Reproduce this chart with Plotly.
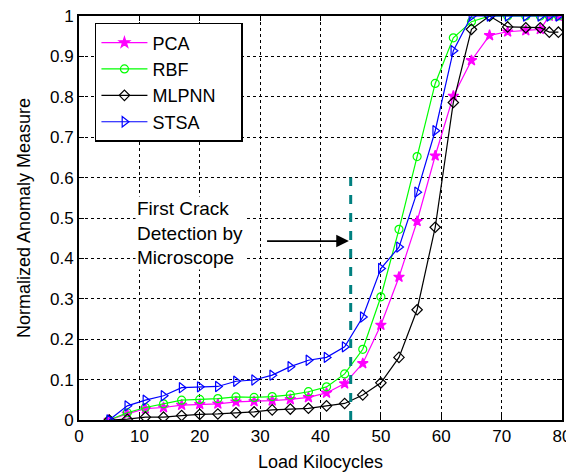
import plotly.graph_objects as go

# load kilocycles at which each method was evaluated
cycles = [5, 8, 11, 14, 17, 20, 23, 26, 29, 32, 35, 38, 41, 44, 47, 50, 53, 56,
          59, 62, 65, 68, 71, 74, 76.4, 77.9, 79.4]

pca = [0, 0.015, 0.028, 0.031, 0.037, 0.039, 0.040, 0.045, 0.046, 0.048, 0.051,
       0.056, 0.067, 0.090, 0.140, 0.235, 0.354, 0.492, 0.654, 0.802, 0.890,
       0.952, 0.961, 0.964, 0.967, 1.0, 1.0]
rbf = [0, 0.018, 0.031, 0.040, 0.049, 0.051, 0.053, 0.057, 0.056, 0.058, 0.062,
       0.070, 0.082, 0.114, 0.175, 0.305, 0.472, 0.652, 0.833, 0.946, 0.986,
       1.0, 1.0, 1.0, 1.0, 1.0, 1.0]
mlpnn = [0, 0.002, 0.007, 0.007, 0.011, 0.014, 0.015, 0.018, 0.020, 0.025, 0.027,
         0.029, 0.035, 0.041, 0.062, 0.092, 0.155, 0.273, 0.477, 0.786, 0.967,
         1.0, 0.973, 0.971, 0.971, 0.960, 0.960]
stsa = [0, 0.035, 0.049, 0.060, 0.080, 0.082, 0.083, 0.096, 0.099, 0.111, 0.132,
        0.148, 0.155, 0.181, 0.255, 0.375, 0.428, 0.564, 0.716, 0.914, 1.0,
        1.0, 1.0, 1.0, 1.0, 1.0, 1.0]

crack_x = 45
crack_top = 0.6

FONT = "Liberation Sans, Arial, sans-serif"
FS = 18
TICK_FS = 17
PAD = "\u00a0" * 4  # widen the legend box like the original

fig = go.Figure()

series = [
    ("PCA", pca, "#ff00ff", "star", 8),
    ("RBF", rbf, "#00ff00", "circle-open", 8),
    ("MLPNN" + PAD, mlpnn, "#000000", "diamond-open", 8),
    ("STSA", stsa, "#0000ff", "triangle-right-open", 9),
]
for name, vals, col, sym, sz in series:
    fig.add_trace(go.Scatter(
        x=cycles, y=vals, name=name, mode="lines+markers",
        line=dict(color=col, width=1.2),
        marker=dict(symbol=sym, size=sz, color=col, line=dict(color=col, width=1.2)),
    ))

# microscope crack detection line
fig.add_trace(go.Scatter(
    x=[crack_x, crack_x], y=[0, crack_top], mode="lines", showlegend=False,
    line=dict(color="#008080", width=3, dash="dash"), hoverinfo="skip",
))

fig.add_annotation(
    x=44.7, y=0.443, ax=30.9, ay=0.443, xref="x", yref="y", axref="x", ayref="y",
    text="", showarrow=True, arrowhead=2, arrowsize=1.4, arrowwidth=1.8,
    arrowcolor="black",
)
fig.add_annotation(
    x=9.3, y=0.462, xref="x", yref="y", xanchor="left", yanchor="middle",
    text="First Crack<br>Detection by<br>Microscope", showarrow=False, align="left",
    font=dict(family=FONT, size=19, color="black"), bgcolor="white",
)

axis_common = dict(
    showline=True, linecolor="black", linewidth=2, mirror="ticks",
    ticks="inside", ticklen=5, tickcolor="black", automargin=False,
    ticklabeloverflow="allow",
    showgrid=True, gridcolor="black", gridwidth=1, griddash="dot",
    zeroline=False, tickfont=dict(family=FONT, size=TICK_FS, color="black"),
)

fig.update_xaxes(range=[0, 80], dtick=10, title=dict(text="Load Kilocycles",
                 font=dict(family=FONT, size=FS, color="black"), standoff=10),
                 **axis_common)
fig.update_yaxes(range=[0, 1], dtick=0.1, tickformat="~g",
                 title=dict(text="Normalized Anomaly Measure",
                            font=dict(family=FONT, size=FS, color="black"), standoff=15),
                 **axis_common)

# page body adds an 8px offset, so the figure is 8px smaller than the window
fig.update_layout(
    width=566, height=466,
    margin=dict(l=71, r=12, t=8, b=54),
    plot_bgcolor="white", paper_bgcolor="white",
    legend=dict(x=0.033, y=0.983, xanchor="left", yanchor="top",
                bordercolor="black", borderwidth=1.5, bgcolor="white",
                font=dict(family=FONT, size=FS, color="black"),
                tracegroupgap=0, itemwidth=46),
)

fig.write_html("out.html")
